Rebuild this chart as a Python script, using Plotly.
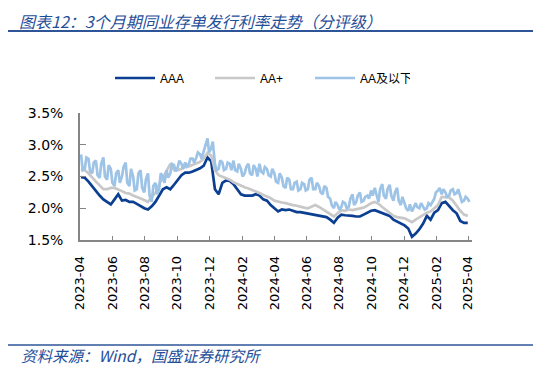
import pandas as pd
import plotly.graph_objects as go

dates = pd.date_range("2023-04-03", periods=105, freq="7D")          # Mondays
dates_thu = pd.date_range("2023-04-06", periods=105, freq="7D")      # Thursdays

aaa = [2.49,2.48,2.42,2.34,2.27,2.20,2.14,2.10,2.06,2.14,
       2.22,2.12,2.13,2.10,2.10,2.07,2.03,2.00,1.98,2.03,
       2.10,2.20,2.30,2.33,2.30,2.37,2.45,2.52,2.56,2.56,
       2.58,2.60,2.63,2.67,2.80,2.74,2.30,2.22,2.40,2.44,
       2.43,2.38,2.30,2.22,2.20,2.20,2.20,2.22,2.20,2.14,
       2.12,2.05,2.00,1.95,1.98,1.97,1.98,1.96,1.94,1.94,
       1.93,1.92,1.90,1.90,1.89,1.87,1.86,1.82,1.77,1.85,
       1.90,1.89,1.89,1.88,1.87,1.87,1.90,1.93,1.96,1.97,
       1.95,1.92,1.90,1.88,1.82,1.79,1.77,1.73,1.68,1.55,
       1.60,1.67,1.76,1.88,1.82,1.93,1.97,2.08,2.10,2.03,
       1.97,1.92,1.80,1.77,1.77]

aa_plus = [2.62,2.60,2.55,2.48,2.42,2.36,2.30,2.30,2.32,2.32,
           2.30,2.27,2.24,2.23,2.20,2.18,2.16,2.13,2.10,2.18,
           2.24,2.38,2.48,2.60,2.70,2.60,2.60,2.62,2.65,2.66,
           2.68,2.70,2.73,2.78,2.87,2.83,2.60,2.52,2.50,2.48,
           2.45,2.41,2.38,2.36,2.33,2.31,2.29,2.27,2.24,2.21,
           2.19,2.16,2.12,2.10,2.09,2.08,2.06,2.05,2.04,2.02,
           2.01,2.00,2.02,2.05,2.02,1.98,1.94,1.90,1.87,1.92,
           1.97,1.96,1.98,1.97,1.98,2.00,2.01,2.04,2.08,2.10,
           2.07,2.02,1.97,1.92,1.88,1.86,1.85,1.84,1.81,1.78,
           1.82,1.86,1.90,1.93,1.95,2.00,2.05,2.18,2.18,2.17,
           2.12,2.04,1.96,1.90,1.88]

aa_below_mon = [2.85,2.62,2.78,2.55,2.75,2.48,2.80,2.45,2.62,2.35,
                2.60,2.50,2.72,2.35,2.50,2.30,2.60,2.25,2.55,2.10,
                2.40,2.30,2.50,2.60,2.55,2.68,2.65,2.70,2.72,2.70,
                2.78,2.80,2.85,2.90,3.10,2.95,2.70,2.62,2.72,2.62,
                2.70,2.75,2.58,2.62,2.55,2.70,2.52,2.62,2.70,2.55,
                2.62,2.50,2.55,2.40,2.48,2.32,2.45,2.30,2.42,2.30,
                2.38,2.30,2.48,2.30,2.35,2.22,2.32,2.15,2.00,2.05,
                2.02,2.08,2.02,2.22,2.10,2.25,2.12,2.20,2.28,2.32,
                2.10,2.38,2.15,2.37,2.12,2.32,2.05,2.08,1.96,1.95,
                2.08,2.00,2.02,2.00,2.05,2.15,2.28,2.22,2.25,2.20,
                2.30,2.24,2.18,2.12,2.15]

aa_below_thu = [2.60,2.80,2.58,2.72,2.52,2.70,2.50,2.68,2.40,2.55,
                2.40,2.65,2.40,2.62,2.28,2.55,2.32,2.45,2.20,2.35,
                2.22,2.55,2.40,2.48,2.70,2.58,2.75,2.62,2.66,2.78,
                2.72,2.88,2.78,3.00,2.88,3.05,2.60,2.75,2.60,2.72,
                2.60,2.60,2.70,2.50,2.65,2.55,2.68,2.50,2.58,2.65,
                2.52,2.62,2.42,2.55,2.35,2.48,2.30,2.40,2.28,2.40,
                2.28,2.45,2.30,2.40,2.25,2.35,2.18,2.05,2.10,1.98,
                2.10,2.00,2.15,2.05,2.20,2.10,2.18,2.15,2.20,2.22,
                2.30,2.20,2.30,2.20,2.25,2.12,2.18,2.00,2.06,2.02,
                2.02,2.08,1.98,2.08,2.10,2.25,2.32,2.30,2.18,2.28,
                2.22,2.30,2.10,2.18,2.10]

series_names = ["AAA", "AA+", "AA及以下"]
series_colors = ["#0B3F92", "#C8C8C8", "#9DC3E6"]
title_text = "图表12：3个月期同业存单发行利率走势（分评级）"
source_text = "资料来源：Wind，国盛证券研究所"

# interleave the Monday / Thursday readings of the AA-and-below series
lb_dates, lb_vals = [], []
for dm, vm, dt, vt in zip(dates, aa_below_mon, dates_thu, aa_below_thu):
    lb_dates += [dm, dt]
    lb_vals += [vm, vt]

# page body has an 8px margin; layout pixel targets are screen coords minus 8
W, H = 541, 369
L, R, T, B = 72, 77, 105, 137
PW, PH = W - L - R, H - T - B

def px(x):
    return (x - 8 - L) / PW

def py(y):
    return 1 - (y - 8 - T) / PH

fig = go.Figure()
for name, xs, vals, col in zip(series_names, [dates, dates, lb_dates],
                               [aaa, aa_plus, lb_vals], series_colors):
    fig.add_trace(go.Scatter(x=xs, y=vals, name=name, mode="lines",
                             line=dict(color=col, width=2.7)))

axis_col = "#858585"
fig.update_layout(
    width=W, height=H,
    paper_bgcolor="white", plot_bgcolor="white",
    margin=dict(l=L, r=R, t=T, b=B),
    showlegend=True,
    legend=dict(orientation="h", x=px(110), xanchor="left", y=py(78), yanchor="middle",
                font=dict(family="Liberation Sans, Noto Sans CJK SC", size=12, color="#000000"),
                itemwidth=40, entrywidth=45, entrywidthmode="pixels",
                bgcolor="rgba(0,0,0,0)"),
    xaxis=dict(type="date", range=["2023-04-01", "2025-04-08"],
               tickformat="%Y-%m", dtick="M2", tick0="2023-04-01",
               tickangle=-90, ticks="inside", ticklen=4, tickcolor=axis_col,
               ticklabelstandoff=9,
               showline=True, linecolor=axis_col, linewidth=1.5,
               showgrid=False, zeroline=False,
               tickfont=dict(family="DejaVu Sans", size=13, color="#000000")),
    yaxis=dict(range=[1.5, 3.5], dtick=0.5, tick0=1.5, tickformat=".1f", ticksuffix="%",
               ticks="inside", ticklen=6, tickcolor=axis_col,
               ticklabelstandoff=12,
               showline=True, linecolor=axis_col, linewidth=1.5,
               showgrid=False, zeroline=False,
               tickfont=dict(family="DejaVu Sans", size=14, color="#000000")),
)

fig.add_annotation(text=title_text, xref="paper", yref="paper", showarrow=False,
                   x=px(18), y=py(8), xanchor="left", yanchor="top", borderpad=0,
                   font=dict(family="Noto Sans CJK SC", size=16, color="#1F4E99", style="italic"))
fig.add_annotation(text=source_text, xref="paper", yref="paper", showarrow=False,
                   x=px(19), y=py(355), xanchor="left", yanchor="middle",
                   font=dict(family="Noto Sans CJK SC", size=15.5, color="#1F4E99", style="italic"))
fig.add_shape(type="line", xref="paper", yref="paper",
              x0=px(5), x1=px(560), y0=py(31), y1=py(31),
              line=dict(color="#2E5597", width=2))
fig.add_shape(type="line", xref="paper", yref="paper",
              x0=px(5), x1=px(560), y0=py(345), y1=py(345),
              line=dict(color="#2E5597", width=1.5))

fig.write_html("out.html")
